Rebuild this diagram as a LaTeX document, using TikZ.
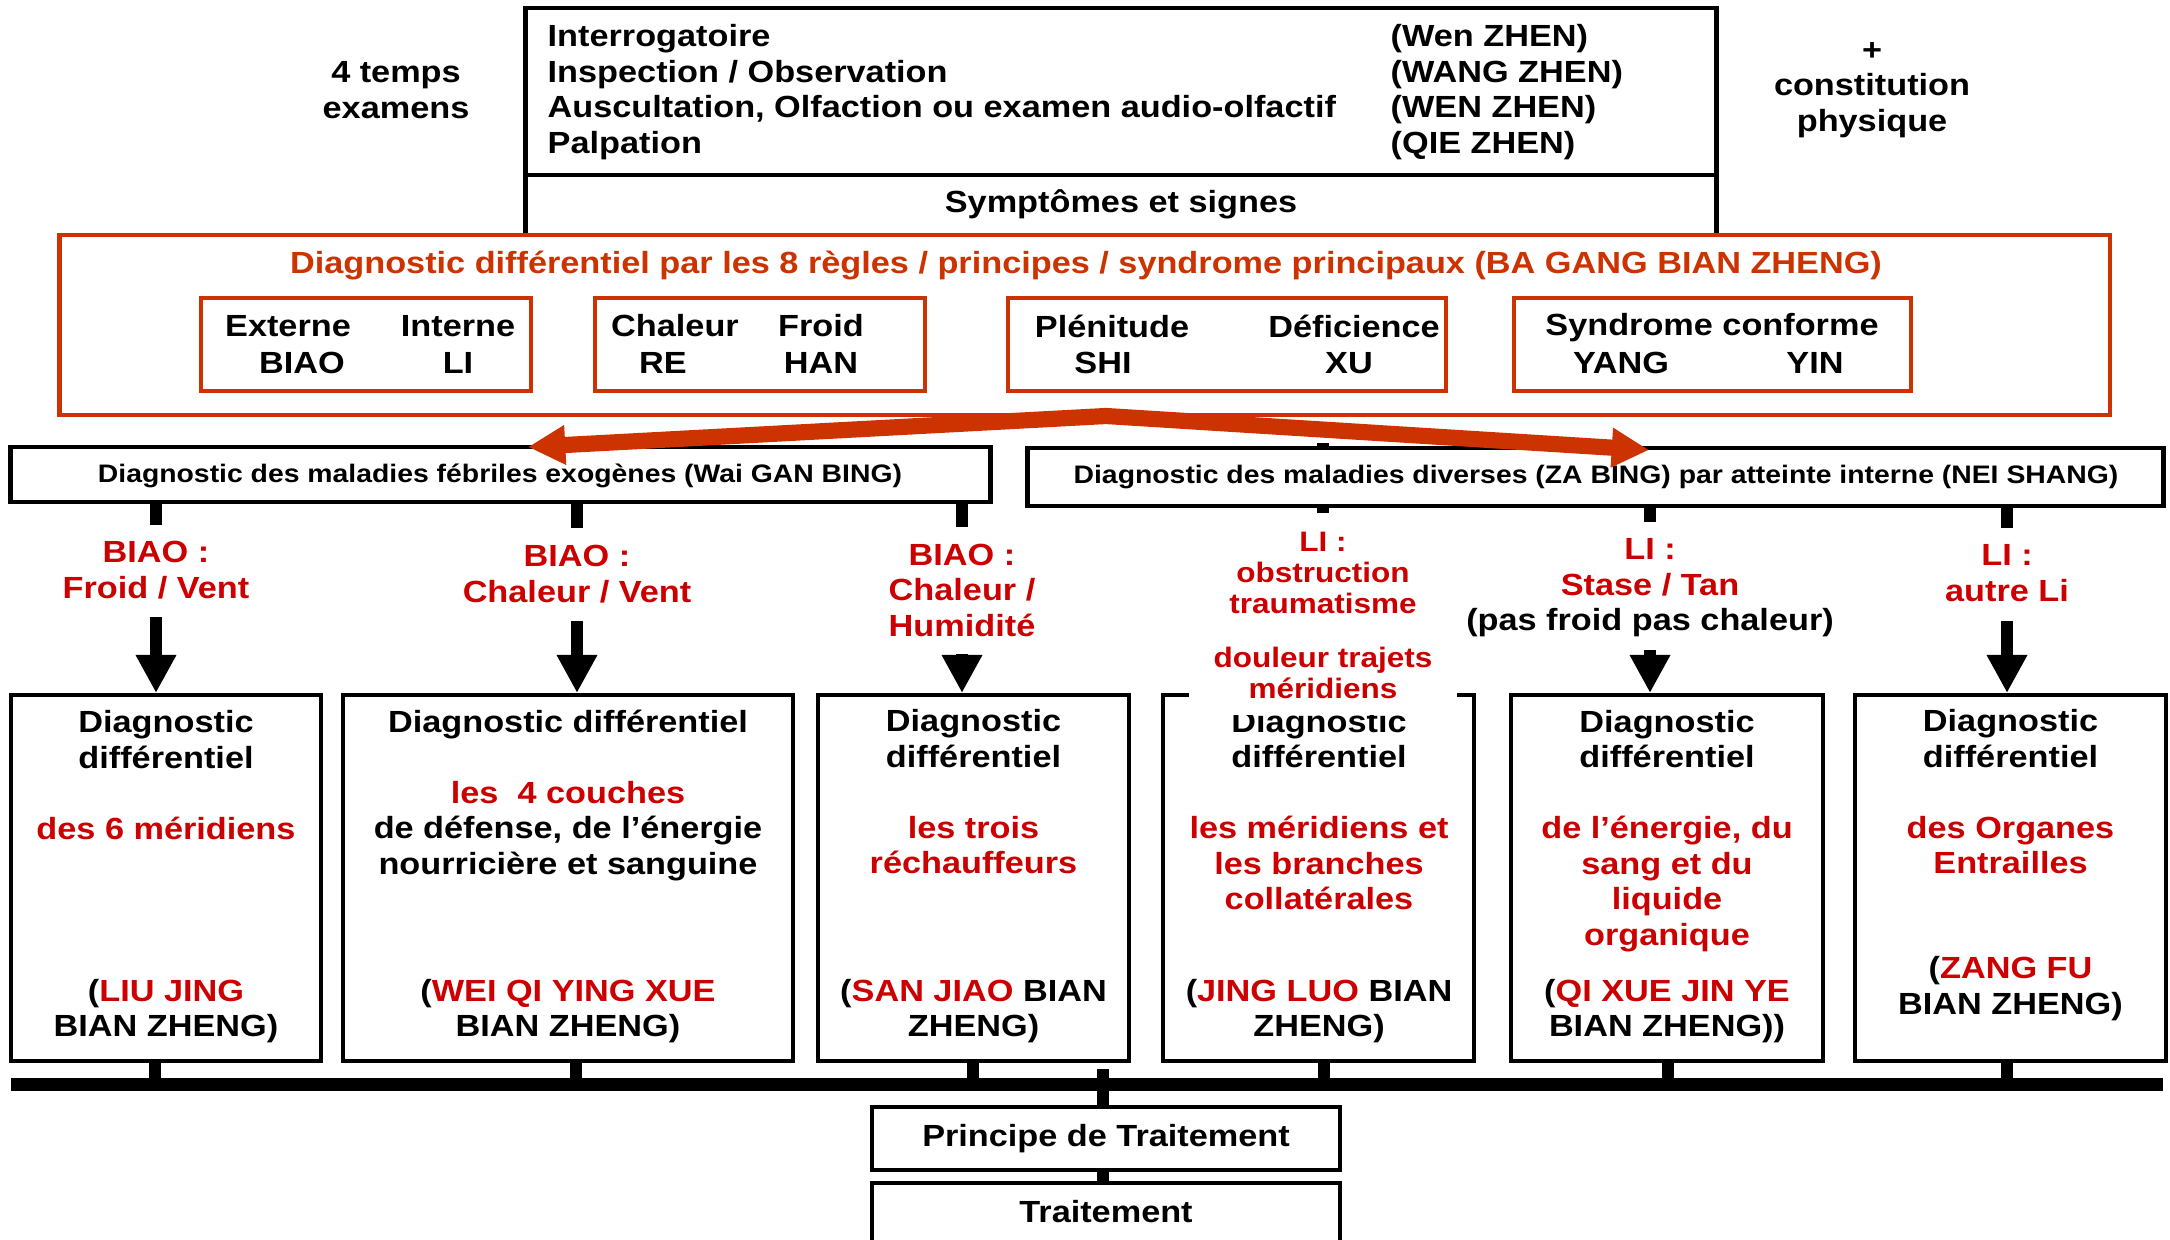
\documentclass[tikz,border=0pt]{standalone}
\usepackage{fontspec}
\setmainfont{Liberation Sans}[FakeStretch=1.12]
\usetikzlibrary{arrows.meta}
\definecolor{borange}{HTML}{CC3300}
\definecolor{tred}{HTML}{CC0000}
\newcommand{\rd}[1]{\textcolor{tred}{#1}}

\begin{document}
\begin{tikzpicture}[x=0.01cm,y=-0.01cm,
    txt/.style={font=\fontsize{8.7}{10.1}\selectfont\bfseries,align=center,inner sep=0pt},
    cat/.style={font=\fontsize{7.2}{8.6}\selectfont\bfseries,inner sep=0pt},
    lbl/.style={txt,text=tred},
    lbs/.style={lbl,font=\fontsize{8}{8.9}\selectfont\bfseries},
    box/.style={draw,line width=1.3pt,fill=white,inner sep=0pt},
    obox/.style={draw=borange,line width=1.2pt,inner sep=0pt},
    dbox/.style={draw,line width=1.1pt,fill=white,inner sep=0pt,minimum height=3.66cm},
    stub/.style={line width=3.6pt},
    down/.style={line width=3.6pt,-{Triangle[length=10.8pt,width=10.8pt]}},
    fan/.style={draw=borange,line width=4.6pt,
        {Triangle[length=10.6pt,width=10.6pt]}-{Triangle[length=10.6pt,width=10.6pt]}}]

  \useasboundingbox (0,0) rectangle (2170,1240);
  \clip (0,0) rectangle (2170,1240);

  % the four examinations
  \node[box,minimum width=11.90cm,minimum height=1.67cm] (exa) at (1121,91.5) {};
  \node[box,minimum width=11.90cm,minimum height=0.60cm] (sym) at (1121,205) {};
  \node[txt] (tmp) at (396,90) {4 temps\\examens};
  \node[txt] (cst) at (1872,90) {+\\constitution\\physique};
  \node[txt,align=left,anchor=west] (mth) at (547,92)
    {Interrogatoire\\Inspection / Observation\\Auscultation, Olfaction ou examen audio-olfactif\\Palpation};
  \node[txt,align=left,anchor=west] (zhn) at (1390,92)
    {(Wen ZHEN)\\(WANG ZHEN)\\(WEN ZHEN)\\(QIE ZHEN)};
  \node[txt] (sgn) at (1121,204) {Symptômes et signes};

  % ba gang
  \node[obox,fill=white,minimum width=20.49cm,minimum height=1.80cm] (bg) at (1084.5,325) {};
  \node[txt,text=borange] (bgt) at (1086,266)
    {Diagnostic différentiel par les 8 règles / principes / syndrome principaux (BA GANG BIAN ZHENG)};
  \node[obox,minimum width=3.30cm,minimum height=0.93cm] (o_1) at (366,344.5) {};
  \node[obox,minimum width=3.30cm,minimum height=0.93cm] (o_2) at (760,344.5) {};
  \node[obox,minimum width=4.38cm,minimum height=0.93cm] (o_3) at (1227,344.5) {};
  \node[obox,minimum width=3.97cm,minimum height=0.93cm] (o_4) at (1712.5,344.5) {};
  \node[txt] (ext) at (288,326) {Externe};
  \node[txt] (int) at (458,326) {Interne};
  \node[txt] (biao) at (302,363) {BIAO};
  \node[txt] (li) at (458,363) {LI};
  \node[txt] (chal) at (675,326) {Chaleur};
  \node[txt] (froid) at (821,326) {Froid};
  \node[txt] (re) at (663,363) {RE};
  \node[txt] (han) at (821,363) {HAN};
  \node[txt] (plen) at (1112,326) {Plénitude};
  \node[txt] (defi) at (1354,326) {Déficience};
  \node[txt] (shi) at (1103,363) {SHI};
  \node[txt] (xu) at (1349,363) {XU};
  \node[txt] (synd) at (1712,328) {Syndrome conforme};
  \node[txt] (yang) at (1621,363) {YANG};
  \node[txt] (yin) at (1815,363) {YIN};

  % wai gan / za bing
  \coordinate (s_4t) at (1323,443);
  \coordinate (s_4) at (1323,513);
  \draw[stub] (s_4t) -- (s_4);
  \node[box,line width=1.4pt,minimum width=9.79cm,minimum height=0.55cm] (fb) at (500.5,474.5) {};
  \node[box,line width=1.4pt,minimum width=11.35cm,minimum height=0.58cm] (zb) at (1595.5,477) {};
  \node[cat] (fbt) at (500,476) {Diagnostic des maladies fébriles exogènes (Wai GAN BING)};
  \node[cat] (zbt) at (1596,477) {Diagnostic des maladies diverses (ZA BING) par atteinte interne (NEI SHANG)};

  \coordinate (s_1) at (156,525);
  \coordinate (s_2) at (577,528);
  \coordinate (s_3) at (962,527);
  \coordinate (s_5) at (1650,522);
  \coordinate (s_6) at (2007,528);
  \draw[stub] (s_1 |- fb.south) -- (s_1);
  \draw[stub] (s_2 |- fb.south) -- (s_2);
  \draw[stub] (s_3 |- fb.south) -- (s_3);
  \draw[stub] (s_5 |- zb.south) -- (s_5);
  \draw[stub] (s_6 |- zb.south) -- (s_6);

  \coordinate (og) at (1106,416);
  \coordinate (tip_l) at (528,447);
  \coordinate (tip_r) at (1649,450);
  \draw[fan] (tip_l) -- (og) -- (tip_r);

  % labels
  \node[lbl] (l_1) at (156,570) {BIAO :\\Froid / Vent};
  \node[lbl] (l_2) at (577,574) {BIAO :\\Chaleur / Vent};
  \node[lbl] (l_3) at (962,590) {BIAO :\\Chaleur /\\Humidité};
  \node[lbs] (l_4) at (1323,573) {LI :\\obstruction\\traumatisme};
  \node[lbl] (l_5) at (1650,588) {LI :\\Stase / Tan\\\textcolor{black}{(pas froid pas chaleur)}};
  \node[lbl] (l_6) at (2007,573) {LI :\\autre Li};

  % the six differential diagnoses
  \foreach \i/\x/\w in {1/166/3.10,2/568/4.50,3/973.5/3.11,4/1318.5/3.11,5/1667/3.12,6/2010.5/3.11}
    \node[dbox,minimum width=\w cm] (d_\i) at (\x,878) {};

  \coordinate (a_1) at (156,617);
  \coordinate (a_2) at (577,621);
  \coordinate (a_3) at (962,654);
  \coordinate (a_5) at (1650,650);
  \coordinate (a_6) at (2007,621);
  \draw[down] (a_1) -- (a_1 |- d_1.north);
  \draw[down] (a_2) -- (a_2 |- d_2.north);
  \draw[down] (a_3) -- (a_3 |- d_3.north);
  \draw[down] (a_5) -- (a_5 |- d_5.north);
  \draw[down] (a_6) -- (a_6 |- d_6.north);

  \node[txt] (t_1) at (166,775) {Diagnostic\\différentiel\\[10.1pt]\rd{des 6 méridiens}};
  \node[txt] (n_1) at (166,1011) {(\rd{LIU JING}\\BIAN ZHENG)};
  \node[txt] (t_2) at (568,795.5) {Diagnostic différentiel\\[10.1pt]\rd{les\ \ 4 couches}\\de défense, de l’énergie\\nourricière et sanguine};
  \node[txt] (n_2) at (568,1011) {(\rd{WEI QI YING XUE}\\BIAN ZHENG)};
  \node[txt] (t_3) at (973.5,792) {Diagnostic\\différentiel\\[10.1pt]\rd{les trois}\\\rd{réchauffeurs}};
  \node[txt] (n_3) at (973.5,1011) {(\rd{SAN JIAO} BIAN\\ZHENG)};
  \node[txt] (t_4) at (1319,810) {Diagnostic\\différentiel\\[10.1pt]\rd{les méridiens et}\\\rd{les branches}\\\rd{collatérales}};
  \node[txt] (n_4) at (1319,1011) {(\rd{JING LUO} BIAN\\ZHENG)};
  \node[txt] (t_5) at (1667,831) {Diagnostic\\différentiel\\[10.1pt]\rd{de l’énergie, du}\\\rd{sang et du}\\\rd{liquide}\\\rd{organique}};
  \node[txt] (n_5) at (1667,1011) {(\rd{QI XUE JIN YE}\\BIAN ZHENG))};
  \node[txt] (t_6) at (2010.5,792) {Diagnostic\\différentiel\\[10.1pt]\rd{des Organes}\\\rd{Entrailles}};
  \node[txt] (n_6) at (2010.5,988.5) {(\rd{ZANG FU}\\BIAN ZHENG)};

  \node[lbs,fill=white,inner xsep=0.25cm,inner ysep=0.16cm] (l_4b) at (1323,673) {douleur trajets\\méridiens};

  % bus and treatment
  \foreach \i/\x in {1/155,2/576,3/973,4/1324,5/1668,6/2007} {
    \coordinate (c_\i) at (\x,1084);
    \draw[stub] (c_\i |- d_\i.south) -- (c_\i);
  }
  \coordinate (bus_w) at (11,1084);
  \coordinate (bus_e) at (2163,1084);
  \draw[line width=3.7pt] (bus_w) -- (bus_e);

  \node[box,line width=1.1pt,minimum width=4.68cm,minimum height=0.63cm] (pt) at (1106,1138.5) {};
  \node[box,line width=1.1pt,minimum width=4.68cm,minimum height=0.84cm] (tr) at (1106,1225) {};
  \node[txt] (ptt) at (1106,1139) {Principe de Traitement};
  \node[txt] (trt) at (1106,1212) {Traitement};
  \coordinate (bc) at (1103,1069);
  \draw[stub] (bc) -- (bc |- pt.north);
  \draw[stub] (bc |- pt.south) -- (bc |- tr.north);

\end{tikzpicture}
\end{document}
